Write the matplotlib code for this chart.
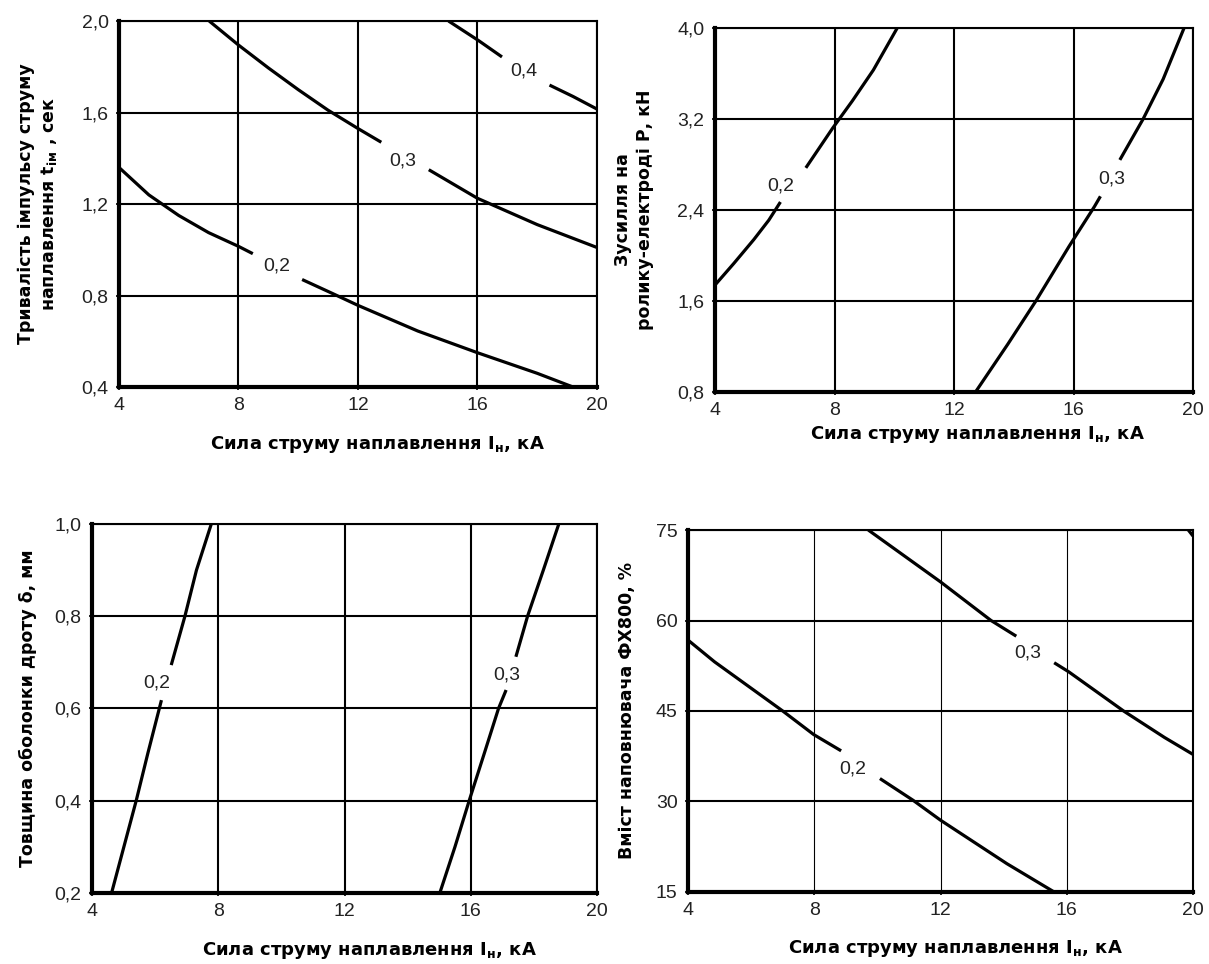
import numpy as np
import matplotlib
matplotlib.use('Agg')
import matplotlib.pyplot as plt

plt.rcParams['mathtext.fontset'] = 'custom'
plt.rcParams['mathtext.rm'] = 'DejaVu Sans:bold'
plt.rcParams['mathtext.it'] = 'DejaVu Sans:bold'
plt.rcParams['mathtext.bf'] = 'DejaVu Sans:bold'

NARROW = ['Liberation Sans', 'DejaVu Sans']
BOLD = ['DejaVu Sans']

# shared x axis
x_ticks = [4, 8, 12, 16, 20]
x_ticklabels = ['4', '8', '12', '16', '20']
x_label = 'Сила струму наплавлення I$_{\\mathrm{н}}$, кА'

# panel 1 - pulse duration
p1_yticks = [0.4, 0.8, 1.2, 1.6, 2.0]
p1_yticklabels = ['0,4', '0,8', '1,2', '1,6', '2,0']
p1_ylabel = 'Тривалість імпульсу струму\nнаплавлення t$_{\\mathrm{ім}}$ , сек'
p1_02_x = [4.0, 5.0, 6.0, 7.0, 8.0, 8.48, 10.13, 11.13, 12.0, 14.0, 16.0, 18.0, 19.2]
p1_02_y = [1.36, 1.24, 1.15, 1.075, 1.015, 0.983, 0.87, 0.81, 0.757, 0.645, 0.55, 0.46, 0.40]
p1_02_gap = 6
p1_03_x = [7.02, 8.0, 9.0, 10.0, 11.0, 12.0, 12.78, 14.37, 16.0, 18.0, 20.0]
p1_03_y = [2.0, 1.895, 1.795, 1.70, 1.61, 1.53, 1.47, 1.35, 1.225, 1.11, 1.01]
p1_03_gap = 7
p1_04_x = [15.03, 16.03, 16.82, 18.41, 19.2, 20.0]
p1_04_y = [2.0, 1.915, 1.843, 1.72, 1.67, 1.615]
p1_04_gap = 3
p1_labels = ['0,2', '0,3', '0,4']
p1_label_x = [9.27, 13.5, 17.55]
p1_label_y = [0.93, 1.39, 1.78]

# panel 2 - roller force
p2_yticks = [0.8, 1.6, 2.4, 3.2, 4.0]
p2_yticklabels = ['0,8', '1,6', '2,4', '3,2', '4,0']
p2_ylabel = 'Зусилля на\nролику-електроді Р, кН'
p2_02_x = [4.0, 4.63, 5.3, 5.8, 6.19, 7.04, 7.94, 8.6, 9.3, 10.1]
p2_02_y = [1.74, 1.93, 2.14, 2.31, 2.47, 2.77, 3.12, 3.36, 3.63, 4.0]
p2_02_gap = 5
p2_03_x = [12.72, 13.8, 14.74, 15.85, 16.7, 16.9, 17.55, 18.33, 19.0, 19.7]
p2_03_y = [0.8, 1.22, 1.6, 2.08, 2.43, 2.52, 2.84, 3.2, 3.55, 4.0]
p2_03_gap = 6
p2_labels = ['0,2', '0,3']
p2_label_x = [6.19, 17.29]
p2_label_y = [2.61, 2.67]

# panel 3 - sheath thickness
p3_yticks = [0.2, 0.4, 0.6, 0.8, 1.0]
p3_yticklabels = ['0,2', '0,4', '0,6', '0,8', '1,0']
p3_ylabel = 'Товщина оболонки дроту δ, мм'
p3_02_x = [4.62, 5.4, 5.77, 6.2, 6.51, 6.94, 7.31, 7.78]
p3_02_y = [0.2, 0.4, 0.503, 0.618, 0.694, 0.799, 0.9, 1.0]
p3_02_gap = 4
p3_03_x = [15.02, 15.5, 15.95, 16.44, 16.88, 17.12, 17.43, 17.8, 18.3, 18.79]
p3_03_y = [0.2, 0.3, 0.4, 0.505, 0.6, 0.64, 0.712, 0.8, 0.9, 1.0]
p3_03_gap = 6
p3_labels = ['0,2', '0,3']
p3_label_x = [6.04, 17.14]
p3_label_y = [0.655, 0.673]

# panel 4 - filler content
p4_yticks = [15, 30, 45, 60, 75]
p4_yticklabels = ['15', '30', '45', '60', '75']
p4_ylabel = 'Вміст наповнювача ФХ800, %'
p4_02_x = [4.0, 4.84, 7.0, 7.98, 8.85, 10.08, 11.13, 12.0, 14.1, 15.6]
p4_02_y = [56.75, 53.15, 45, 41.1, 38.4, 33.8, 30.2, 26.9, 19.7, 15.0]
p4_02_gap = 5
p4_03_x = [9.71, 12.0, 13.6, 14.4, 15.6, 16.06, 17.8, 19.1, 20.0]
p4_03_y = [75, 66.4, 60, 57.4, 53, 51.5, 45, 40.6, 37.8]
p4_03_gap = 4
p4_04_x = [19.85, 20.0]
p4_04_y = [75, 74.0]
p4_labels = ['0,2', '0,3']
p4_label_x = [9.22, 14.76]
p4_label_y = [35.4, 54.6]

fig = plt.figure(figsize=(12.09, 9.64), dpi=100)


def curve(ax, xs, ys, gap=None):
    parts = [(xs, ys)] if gap is None else [(xs[:gap], ys[:gap]), (xs[gap:], ys[gap:])]
    for px, py in parts:
        ax.plot(px, py, color='black', lw=2.3, solid_capstyle='butt',
                solid_joinstyle='round', zorder=3)


def panel(rect, yticks, yticklabels, ylabel, ylab_x, xlab_x, xlab_y, thin_vgrid=False):
    ax = fig.add_axes(rect)
    ax.set_xlim(x_ticks[0], x_ticks[-1])
    ax.set_ylim(yticks[0], yticks[-1])
    ax.set_xticks(x_ticks)
    ax.set_xticklabels(x_ticklabels, fontfamily=NARROW, fontsize=14, color='#222222')
    ax.set_yticks(yticks)
    ax.set_yticklabels(yticklabels, fontfamily=NARROW, fontsize=14, color='#222222')
    ax.tick_params(axis='both', direction='out', length=2.5, width=1.2)
    ax.tick_params(axis='x', pad=5)
    ax.tick_params(axis='y', pad=5)
    ax.grid(axis='y', color='black', lw=1.5)
    ax.grid(axis='x', color='black', lw=0.8 if thin_vgrid else 1.5)
    ax.set_axisbelow(True)
    for s in ['left', 'bottom']:
        ax.spines[s].set_linewidth(3.0)
    for s in ['top', 'right']:
        ax.spines[s].set_linewidth(1.5)
    ax.text(xlab_x, xlab_y, x_label, transform=ax.transAxes, ha='center', va='center',
            fontfamily=BOLD, fontweight='bold', fontsize=13)
    ax.text(ylab_x, 0.5, ylabel, transform=ax.transAxes, rotation=90, ha='center',
            va='center', multialignment='center', fontfamily=BOLD, fontweight='bold',
            fontsize=12.5, linespacing=1.3)
    return ax


def labels(ax, texts, xs, ys):
    for t, x, y in zip(texts, xs, ys):
        ax.text(x, y, t, ha='center', va='center', fontfamily=NARROW, fontsize=14,
                color='#222222', zorder=4)


ax1 = panel([0.0984, 0.5985, 0.3954, 0.3797], p1_yticks, p1_yticklabels, p1_ylabel,
            -0.169, 0.54, -0.158)
curve(ax1, p1_02_x, p1_02_y, p1_02_gap)
curve(ax1, p1_03_x, p1_03_y, p1_03_gap)
curve(ax1, p1_04_x, p1_04_y, p1_04_gap)
labels(ax1, p1_labels, p1_label_x, p1_label_y)

ax2 = panel([0.5914, 0.5934, 0.3954, 0.3776], p2_yticks, p2_yticklabels, p2_ylabel,
            -0.169, 0.55, -0.118)
curve(ax2, p2_02_x, p2_02_y, p2_02_gap)
curve(ax2, p2_03_x, p2_03_y, p2_03_gap)
labels(ax2, p2_labels, p2_label_x, p2_label_y)

ax3 = panel([0.0761, 0.0737, 0.4177, 0.3828], p3_yticks, p3_yticklabels, p3_ylabel,
            -0.127, 0.55, -0.155)
curve(ax3, p3_02_x, p3_02_y, p3_02_gap)
curve(ax3, p3_03_x, p3_03_y, p3_03_gap)
labels(ax3, p3_labels, p3_label_x, p3_label_y)

ax4 = panel([0.5691, 0.0747, 0.4177, 0.3755], p4_yticks, p4_yticklabels, p4_ylabel,
            -0.121, 0.53, -0.155, thin_vgrid=True)
curve(ax4, p4_02_x, p4_02_y, p4_02_gap)
curve(ax4, p4_03_x, p4_03_y, p4_03_gap)
curve(ax4, p4_04_x, p4_04_y)
labels(ax4, p4_labels, p4_label_x, p4_label_y)

fig.savefig('out.png', dpi=100, facecolor='white')
